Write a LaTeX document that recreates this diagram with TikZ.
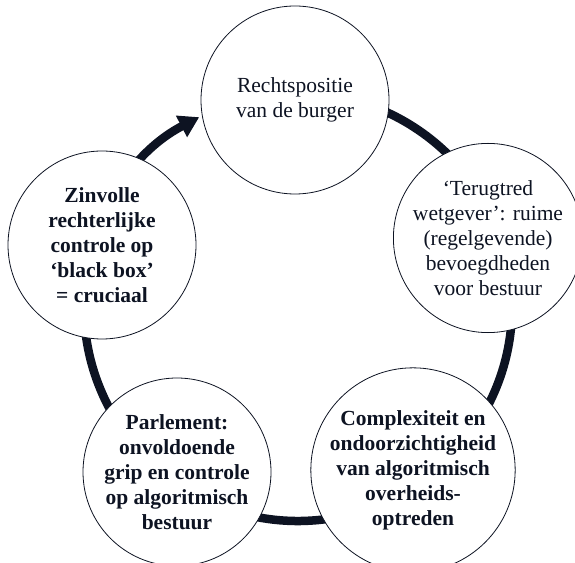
\documentclass[tikz,border=0pt]{standalone}
\usepackage{fontspec}
\setmainfont{Liberation Serif}
\usepackage{xcolor}
\usetikzlibrary{arrows.meta}
\definecolor{ink}{HTML}{0D1322}

\begin{document}
\begin{tikzpicture}[x=1pt, y=1pt,
    stage/.style={draw=ink, line width=0.8pt, circle, fill=white, minimum size=188pt, inner sep=0pt, align=center, text=ink, font=\fontsize{21.5}{25}\selectfont},
    keystage/.style={stage, font=\fontsize{21.5}{25}\selectfont\bfseries},
    ring/.style={draw=ink, line width=8.5pt, -{Triangle[length=20pt, width=23pt]}}]
    \useasboundingbox (0,0) rectangle (575,562);

    % Centre of the cycle
    \coordinate (c) at (298,255);

    % The cycle itself
    \draw[ring] ([shift={(98:214)}]c) arc[start angle=98, end angle=-242.5, radius=214];

    % Stages of the cycle
    \node[stage] (burger) at (295,462) {Rechtspositie\\van de burger};
    \node[stage] (wetgever) at (488,324) {‘Terugtred\\wetgever’: ruime\\(regelgevende)\\bevoegdheden\\voor bestuur};
    \node[keystage] (complex) at (413,92) {Complexiteit en\\ondoorzichtigheid\\van algoritmisch\\overheids-\\optreden};
    \node[keystage] (parlement) at (177,90) {Parlement:\\onvoldoende\\grip en controle\\op algoritmisch\\bestuur};
    \node[keystage] (rechter) at (102,317) {Zinvolle\\rechterlijke\\controle op\\‘black box’\\= cruciaal};
\end{tikzpicture}
\end{document}
